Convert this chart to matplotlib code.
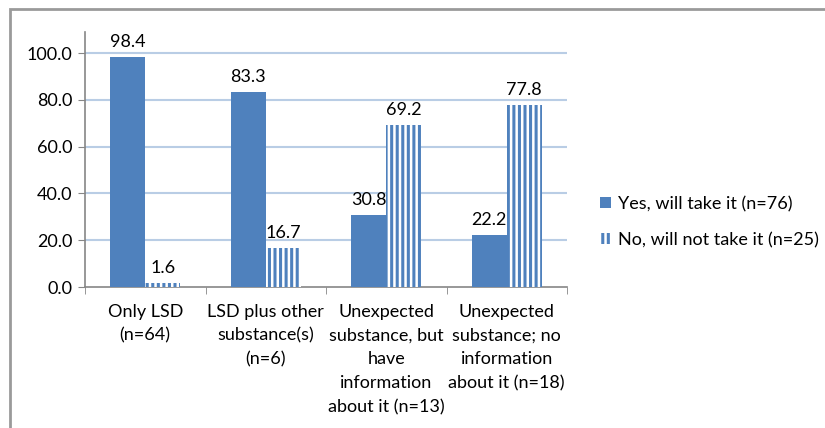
import matplotlib
matplotlib.use("Agg")
import matplotlib.pyplot as plt
from matplotlib.patches import Patch, Rectangle

# Daten
kategorien = [
    "Only LSD\n(n=64)",
    "LSD plus other\nsubstance(s)\n(n=6)",
    "Unexpected\nsubstance, but\nhave\ninformation\nabout it (n=13)",
    "Unexpected\nsubstance; no\ninformation\nabout it (n=18)",
]
ja_werte = [98.4, 83.3, 30.8, 22.2]
nein_werte = [1.6, 16.7, 69.2, 77.8]
legende = ["Yes, will take it (n=76)", "No, will not take it (n=25)"]
y_ticks = [0, 20, 40, 60, 80, 100]

blau = "#4f81bd"
grid_farbe = "#b9cde5"
achsen_farbe = "#868686"
schrift = 13

plt.rcParams["font.family"] = ["Lato", "DejaVu Sans"]
plt.rcParams["hatch.linewidth"] = 2.2

fig = plt.figure(figsize=(8.25, 4.28), dpi=100)
ax = fig.add_axes([85 / 825, 1 - 287 / 428, (567 - 85) / 825, (287 - 32) / 428])

# Rahmen um das Diagramm
fig.patches.append(Rectangle((10 / 825, -0.1), 1.1, 1 - 9 / 428 + 0.1,
                             transform=fig.transFigure, fill=False,
                             edgecolor="#9a9a9a", linewidth=2))

x = list(range(len(kategorien)))
breite = 0.29
ja_bars = ax.bar([i - breite / 2 for i in x], ja_werte, width=breite,
                 color=blau, linewidth=0, zorder=3)
nein_bars = ax.bar([i + breite / 2 for i in x], nein_werte, width=breite,
                   facecolor="white", edgecolor=blau, hatch="|||",
                   linewidth=0, zorder=3)

# Werte über den Balken
for bars, werte in [(ja_bars, ja_werte), (nein_bars, nein_werte)]:
    for b, w in zip(bars, werte):
        ax.annotate(f"{w:.1f}", (b.get_x() + b.get_width() / 2, w),
                    xytext=(0, 5), textcoords="offset points",
                    ha="center", va="bottom", fontsize=schrift, color="black")

ax.set_xlim(-0.5, len(kategorien) - 0.5)
ax.set_ylim(0, 109)
ax.set_yticks(y_ticks)
ax.set_yticklabels([f"{t:.1f}" for t in y_ticks], fontsize=schrift)
for t in y_ticks[1:]:
    ax.axhline(t, color=grid_farbe, linewidth=1.5, zorder=1)

ax.set_xticks(x)
ax.set_xticklabels(kategorien, fontsize=schrift, linespacing=1.6)
ax.set_xticks([i - 0.5 for i in range(len(kategorien) + 1)], minor=True)
ax.tick_params(axis="x", which="major", length=0, pad=12)
ax.tick_params(axis="x", which="minor", length=5, color=achsen_farbe)
ax.tick_params(axis="y", length=5, color=achsen_farbe, pad=4)

for s in ["top", "right"]:
    ax.spines[s].set_visible(False)
for s in ["left", "bottom"]:
    ax.spines[s].set_color(achsen_farbe)
    ax.spines[s].set_linewidth(1.2)

handles = [Patch(facecolor=blau, linewidth=0),
           Patch(facecolor="white", edgecolor=blau, hatch="|||", linewidth=0)]
fig.legend(handles, legende, loc="center left",
           bbox_to_anchor=(584 / 825, 1 - 222 / 428), frameon=False,
           fontsize=schrift, handlelength=0.6, handleheight=0.6,
           handletextpad=0.4, labelspacing=1.1)

fig.savefig("out.png", dpi=100)
